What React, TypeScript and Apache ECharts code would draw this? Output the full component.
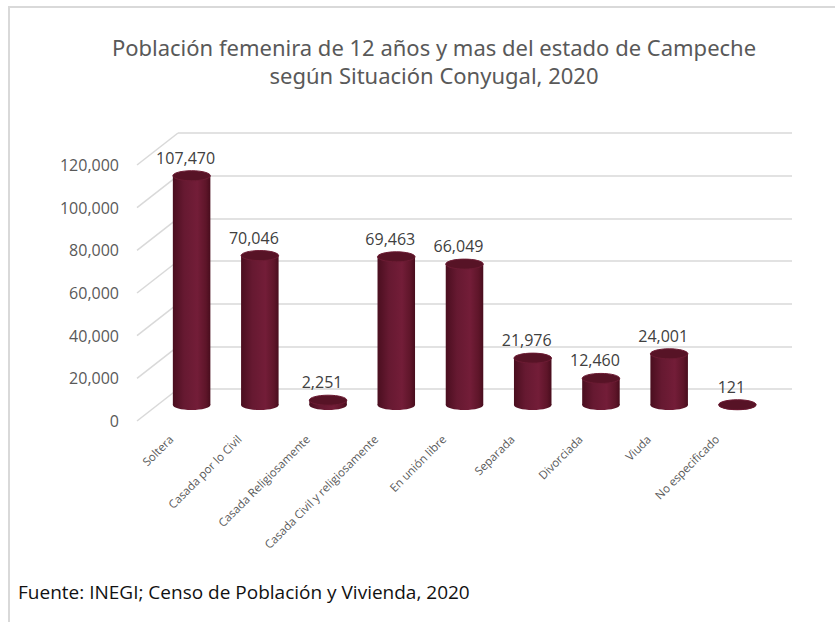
import React, { useEffect, useRef } from "react";
import * as echarts from "echarts";

const categories = [
  "Soltera",
  "Casada por lo Civil",
  "Casada Religiosamente",
  "Casada Civil y religiosamente",
  "En unión libre",
  "Separada",
  "Divorciada",
  "Viuda",
  "No especificado",
];
const values = [107470, 70046, 2251, 69463, 66049, 21976, 12460, 24001, 121];
const yTicks = [0, 20000, 40000, 60000, 80000, 100000, 120000];
const titleLines = [
  "Población femenira de 12 años y mas del estado de Campeche",
  "según Situación Conyugal, 2020",
];
const sourceNote = "Fuente: INEGI; Censo de Población y Vivienda, 2020";

const DEPTH_X = 41;
const DEPTH_Y = -32;
const GRID_W = 614;
const GRID_H = 256;
const FRONT = { left: 137, top: 165 };
const GRID_COLOR = "#d9d9d9";

const fmt = (v: number) => Math.round(v).toLocaleString("en-US");

export default function App() {
  const ref = useRef<HTMLDivElement>(null);
  useEffect(() => {
    document.body.style.margin = "0";
    if (!ref.current) return;
    const chart = echarts.init(ref.current, undefined, { renderer: "svg" });
    const yMin = yTicks[0];
    const yMax = yTicks[yTicks.length - 1];
    const yInt = yTicks[1] - yTicks[0];

    const bodyFill = () =>
      new echarts.graphic.LinearGradient(0, 0, 1, 0, [
        { offset: 0, color: "#4a0e1f" },
        { offset: 0.3, color: "#661931" },
        { offset: 0.65, color: "#731d38" },
        { offset: 0.88, color: "#5e1529" },
        { offset: 1, color: "#480d1d" },
      ]);

    const option: any = {
      animation: false,
      backgroundColor: "#ffffff",
      grid: [
        { left: FRONT.left, top: FRONT.top, width: GRID_W, height: GRID_H },
        { left: FRONT.left + DEPTH_X, top: FRONT.top + DEPTH_Y, width: GRID_W, height: GRID_H },
        { left: FRONT.left + DEPTH_X / 2, top: FRONT.top + DEPTH_Y / 2, width: GRID_W, height: GRID_H },
      ],
      xAxis: [
        {
          type: "category",
          gridIndex: 0,
          data: categories,
          axisLine: { show: false },
          axisTick: { show: false },
          splitLine: { show: false },
          axisLabel: {
            interval: 0,
            rotate: 45,
            margin: 16,
            fontSize: 11.5,
            fontFamily: "Open Sans",
            color: "#595959",
          },
        },
        { type: "category", gridIndex: 1, data: categories, show: false },
        { type: "category", gridIndex: 2, data: categories, show: false },
      ],
      yAxis: [
        {
          type: "value",
          gridIndex: 0,
          min: yMin,
          max: yMax,
          interval: yInt,
          axisLine: { show: false },
          axisTick: { show: false },
          splitLine: { show: false },
          axisLabel: {
            margin: 18,
            fontSize: 16,
            fontFamily: "Open Sans",
            color: "#595959",
            formatter: (v: number) => fmt(v),
          },
        },
        {
          type: "value",
          gridIndex: 1,
          min: yMin,
          max: yMax,
          interval: yInt,
          axisLine: { show: false },
          axisTick: { show: false },
          axisLabel: { show: false },
          splitLine: { show: true, lineStyle: { color: GRID_COLOR, width: 1.5 } },
        },
        { type: "value", gridIndex: 2, min: yMin, max: yMax, interval: yInt, show: false },
      ],
      series: [
        {
          type: "custom",
          xAxisIndex: 0,
          yAxisIndex: 0,
          silent: true,
          data: yTicks.map((v) => [0, v]),
          renderItem: (params: any, api: any) => {
            const p = api.coord([0, api.value(1)]);
            const x0 = params.coordSys.x;
            return {
              type: "line",
              shape: { x1: x0, y1: p[1], x2: x0 + DEPTH_X, y2: p[1] + DEPTH_Y },
              style: { stroke: GRID_COLOR, lineWidth: 1.5 },
            };
          },
        },
        {
          type: "custom",
          xAxisIndex: 2,
          yAxisIndex: 2,
          silent: true,
          data: values.map((v, i) => [i, v]),
          renderItem: (params: any, api: any) => {
            const idx = api.value(0);
            const v = api.value(1);
            const top = api.coord([idx, v]);
            const base = api.coord([idx, 0]);
            const w = api.size([1, 0])[0] * 0.55;
            const rx = w / 2;
            const ry = 5;
            const cx = top[0];
            return {
              type: "group",
              children: [
                {
                  type: "ellipse",
                  shape: { cx, cy: base[1], rx, ry },
                  style: { fill: bodyFill() },
                },
                {
                  type: "rect",
                  shape: { x: cx - rx, y: top[1], width: w, height: Math.max(0, base[1] - top[1]) },
                  style: { fill: bodyFill() },
                },
                {
                  type: "ellipse",
                  shape: { cx, cy: top[1], rx, ry },
                  style: { fill: "#571326", stroke: "#6c1b33", lineWidth: 1 },
                },
                {
                  type: "text",
                  x: cx - 6,
                  y: top[1] - 18,
                  style: {
                    text: fmt(v),
                    fill: "#404040",
                    font: '16px "Open Sans"',
                    align: "center",
                    verticalAlign: "middle",
                    textAlign: "center",
                    textVerticalAlign: "middle",
                  },
                },
              ],
            };
          },
        },
      ],
      graphic: [
        {
          type: "line",
          shape: { x1: 8, y1: 7, x2: 835, y2: 7 },
          style: { stroke: GRID_COLOR, lineWidth: 2 },
        },
        {
          type: "line",
          shape: { x1: 9, y1: 7, x2: 9, y2: 622 },
          style: { stroke: GRID_COLOR, lineWidth: 2 },
        },
        ...titleLines.map((t, i) => ({
          type: "text",
          x: 434,
          y: 47 + i * 28,
          style: {
            text: t,
            fill: "#595959",
            font: '22px "Noto Sans"',
            align: "center",
            verticalAlign: "middle",
            textAlign: "center",
            textVerticalAlign: "middle",
          },
        })),
        {
          type: "text",
          x: 18,
          y: 592,
          style: {
            text: sourceNote,
            fill: "#111111",
            font: '19px "Open Sans"',
            align: "left",
            verticalAlign: "middle",
            textAlign: "left",
            textVerticalAlign: "middle",
          },
        },
      ],
    };
    chart.setOption(option);
    return () => chart.dispose();
  }, []);
  return <div ref={ref} style={{ width: 835, height: 622 }} />;
}
